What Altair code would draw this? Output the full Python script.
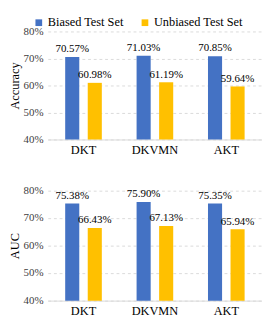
import altair as alt
import pandas as pd

models = ["DKT", "DKVMN", "AKT"]
series = ["Biased Test Set", "Unbiased Test Set"]
acc_biased = [70.57, 71.03, 70.85]
acc_unbiased = [60.98, 61.19, 59.64]
auc_biased = [75.38, 75.90, 75.35]
auc_unbiased = [66.43, 67.13, 65.94]
colors = ["#4472C4", "#FFC000"]
FONT = "Liberation Serif"


def make_df(b, u):
    rows = []
    for m, vb, vu in zip(models, b, u):
        rows.append({"model": m, "set": series[0], "value": vb})
        rows.append({"model": m, "set": series[1], "value": vu})
    return pd.DataFrame(rows)


def panel(df, title, h, show_legend):
    x = alt.X("model:N", sort=models, title=None,
              scale=alt.Scale(paddingInner=0.487, paddingOuter=0.2435),
              axis=alt.Axis(labelAngle=0, labelFontSize=13, labelFont=FONT,
                            labelColor="#000", ticks=False, domainColor="#d9d9d9",
                            labelPadding=5))
    xo = alt.XOffset("set:N", sort=series,
                     scale=alt.Scale(paddingInner=0.375, paddingOuter=0))
    y = alt.Y("value:Q", title=title,
              scale=alt.Scale(domain=[40, 80], nice=False, zero=False),
              axis=alt.Axis(values=[40, 50, 60, 70, 80], labelExpr="datum.value + '%'",
                            domain=False, ticks=False, gridDash=[3, 3],
                            gridColor="#d9d9d9", labelFont=FONT, labelFontSize=11.5,
                            labelColor="#404040", titleFont=FONT, titleFontSize=13,
                            titleFontWeight="normal", titleColor="#000",
                            titlePadding=2, labelPadding=5))
    color = alt.Color("set:N", sort=series, title=None,
                      scale=alt.Scale(domain=series, range=colors),
                      legend=alt.Legend(orient="none", legendX=-16, legendY=-16,
                                        padding=0, direction="horizontal",
                                        symbolType="square",
                                        symbolSize=50, symbolStrokeWidth=0,
                                        labelFont=FONT, labelFontSize=13,
                                        labelColor="#000", columnPadding=16,
                                        labelOffset=3) if show_legend else None)
    base = alt.Chart(df).encode(x=x, xOffset=xo, y=y)
    bars = base.mark_bar().encode(color=color, y2=alt.datum(40))
    text = base.transform_calculate(lbl="format(datum.value, '.2f') + '%'").mark_text(
        baseline="bottom", dy=-3, font=FONT, fontSize=11.5, color="#000"
    ).encode(text="lbl:N")
    return alt.layer(bars, text).properties(width=226, height=h)


top = panel(make_df(acc_biased, acc_unbiased), "Accuracy", 114, True)
bottom = panel(make_df(auc_biased, auc_unbiased), "AUC", 116, False)

chart = alt.vconcat(top, bottom, spacing=30).configure_view(stroke=None).properties(
    padding={"left": 0, "top": 0, "right": 0, "bottom": 0}
)

chart.save("out.html", embed_options={"renderer": "svg", "actions": False})
